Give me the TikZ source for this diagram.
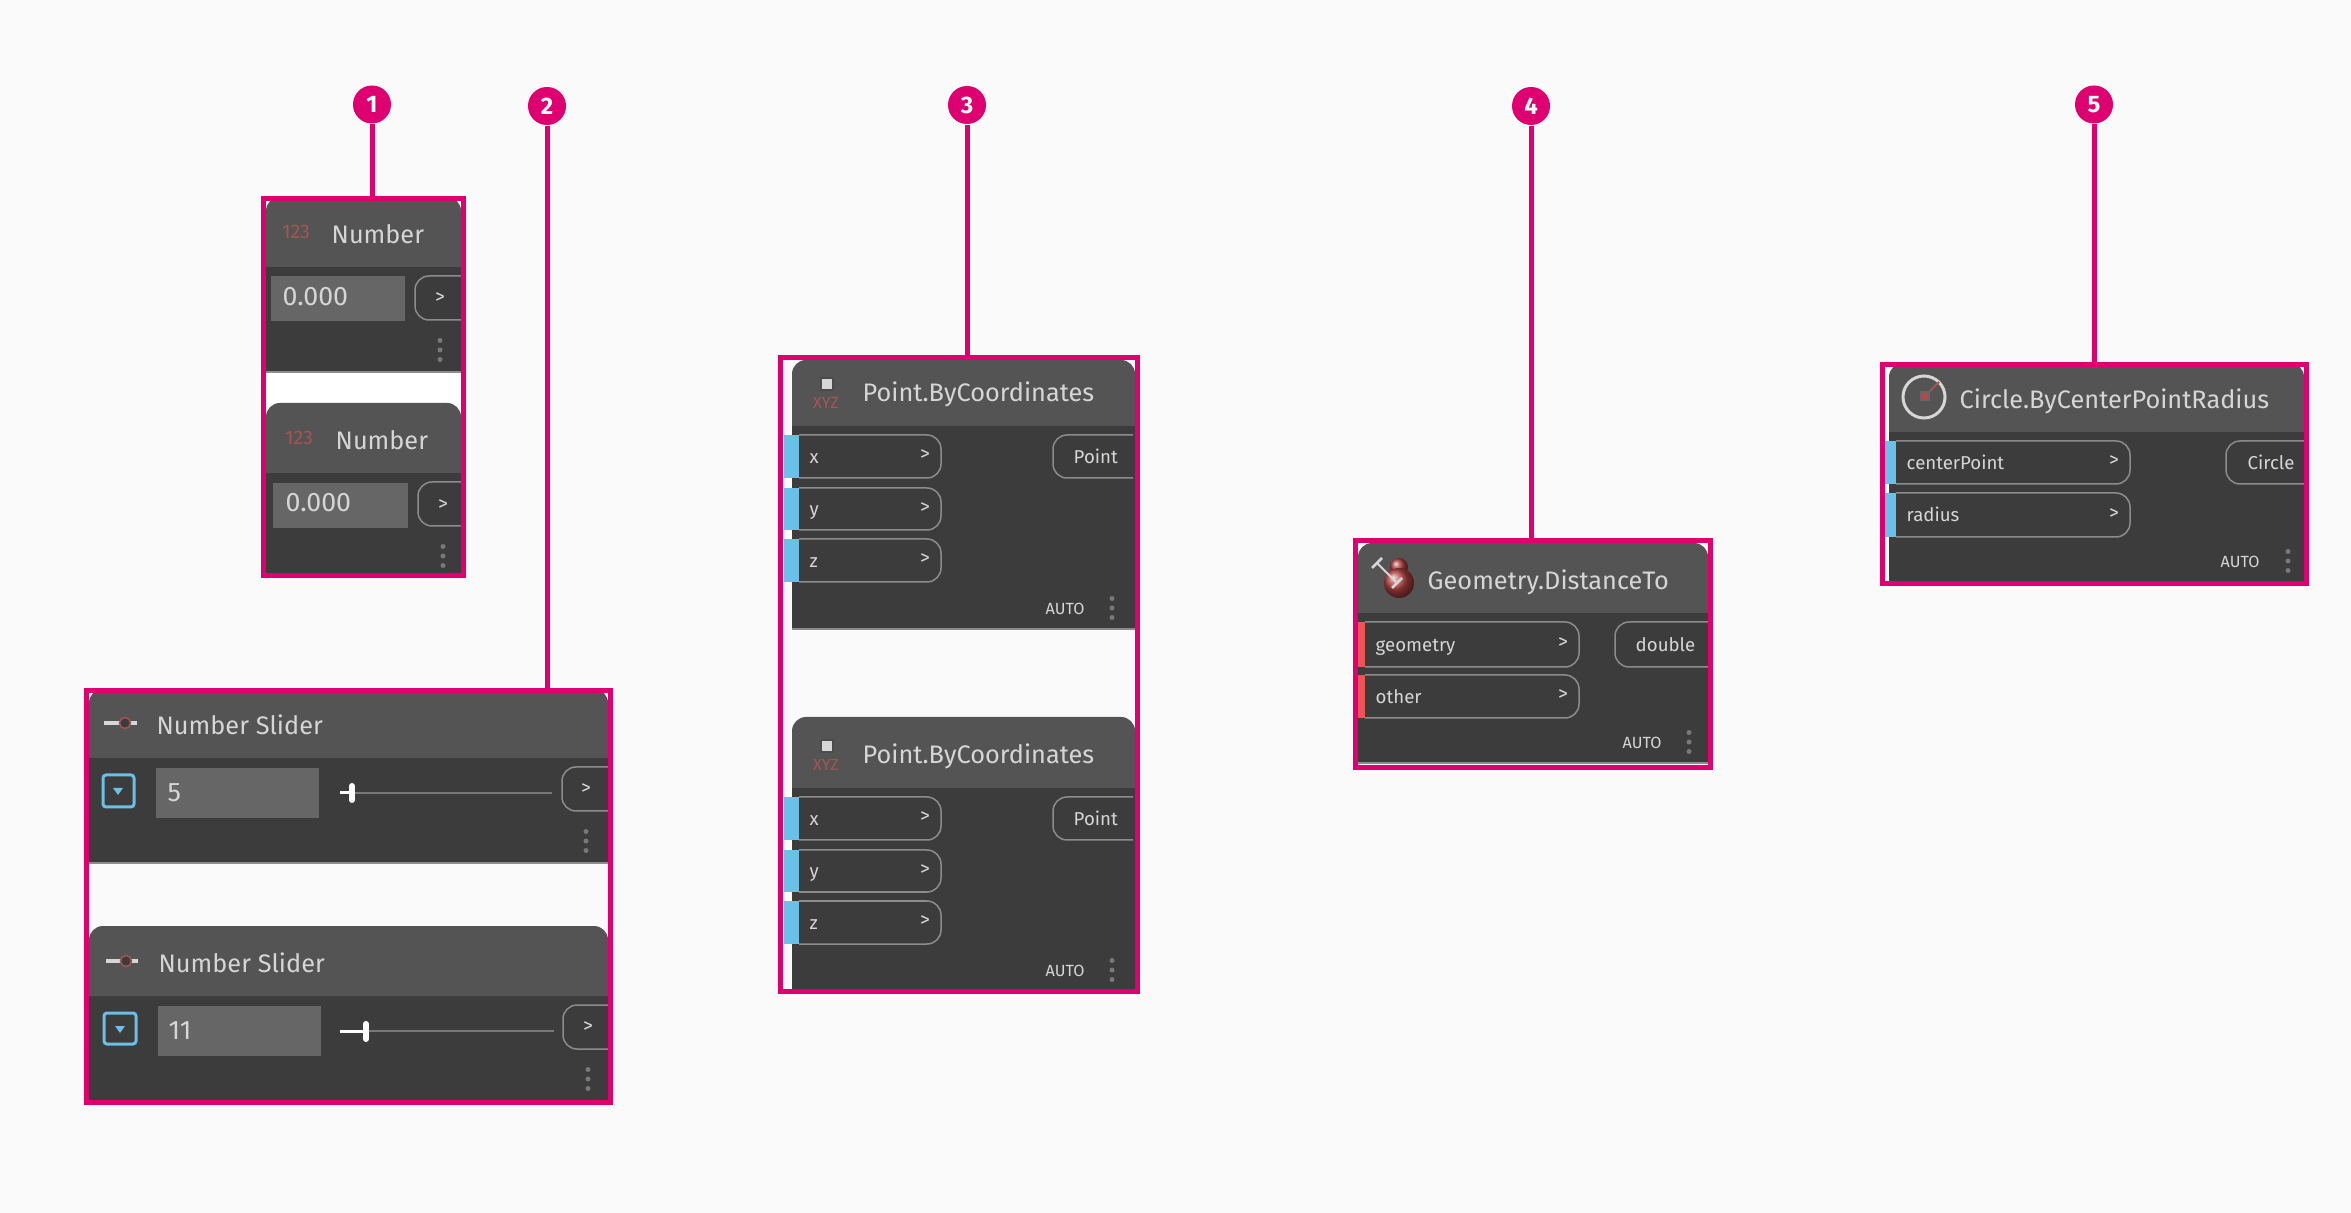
\documentclass[tikz,border=0pt]{standalone}
\usepackage{fontspec}
\setmainfont{Fira Sans}
\usetikzlibrary{fit}

\definecolor{figpage}{RGB}{250,250,250}
\definecolor{figpink}{RGB}{222,0,112}
\definecolor{fighead}{RGB}{84,84,84}
\definecolor{figbody}{RGB}{60,60,60}
\definecolor{figfield}{RGB}{102,102,102}
\definecolor{figedge}{RGB}{140,140,140}
\definecolor{figtext}{RGB}{214,214,214}
\definecolor{figdots}{RGB}{120,120,120}
\definecolor{figblue}{RGB}{106,192,231}
\definecolor{figred}{RGB}{235,85,85}
\definecolor{figicon}{RGB}{165,84,84}

\tikzset{
  badge/.style={circle,fill=figpink,text=white,inner sep=0pt,minimum size=0.38cm,
    font=\fontsize{6.8}{8}\bfseries\selectfont},
  leader/.style={figpink,line width=0.05cm},
  framebox/.style={draw=figpink,line width=0.05cm,inner sep=0pt},
  titletext/.style={anchor=base west,inner sep=0pt,text=figtext,font=\fontsize{7.2}{9}\selectfont},
  valuetext/.style={anchor=west,inner sep=0pt,text=figtext,font=\fontsize{7.6}{9}\selectfont},
  porttext/.style={anchor=base west,inner sep=0pt,text=figtext,font=\fontsize{5.3}{7}\selectfont},
  chevron/.style={inner sep=0pt,text=figtext,font=\fontsize{5.6}{7}\selectfont},
  autotext/.style={anchor=west,inner sep=0pt,text=figtext,font=\fontsize{4.6}{6}\selectfont},
  icontext/.style={inner sep=0pt,text=figicon,font=\fontsize{4.6}{6}\selectfont},
  numbericon/.style={inner sep=0pt,text=figicon,font=\fontsize{5.6}{7}\selectfont},
  portline/.style={figedge,line width=0.015cm,rounded corners=0.14cm},
}

% l, r, top, header bottom, bottom
\newcommand{\dynnode}[5]{
  \fill[figbody] (#1,#4) rectangle (#2,#5);
  \draw[figedge,line width=0.015cm] (#1,#5) -- (#2,#5);
  \fill[fighead] (#1,#4) [rounded corners=0.14cm] -- (#1,#3) -- (#2,#3) [sharp corners] -- (#2,#4) -- cycle;
}
\newcommand{\menudots}[2]{
  \foreach \k in {-9.5,0,9.5} \fill[figdots] (#1,#2+\k) circle (0.025cm);
}
% name, colour, bar left, bar right, pill right, top, bottom, label
\newcommand{\inport}[8]{
  \draw[portline] (#4,#6) -- (#5,#6) -- (#5,#7) -- (#4,#7);
  \fill[#2] (#3,#6) rectangle (#4,#7);
  \node[porttext] (#1label) at (#4+10,{(#6+#7)/2+7}) {#8};
  \node[chevron] (#1arrow) at (#5-16,{(#6+#7)/2-1}) {>};
}
% name, left, right, top, bottom, label x, label
\newcommand{\outport}[7]{
  \draw[portline] (#3,#4) -- (#2,#4) -- (#2,#5) -- (#3,#5);
  \node[porttext] (#1) at (#6,{(#4+#5)/2+7}) {#7};
}

\begin{document}
\begin{tikzpicture}[x=0.01cm,y=-0.01cm]
  \useasboundingbox (0,0) rectangle (2351,1213);
  \fill[figpage] (0,0) rectangle (2351,1213);
  \fill[white] (266,372) rectangle (461,403);

  % number nodes
  \dynnode{266}{461}{197}{267}{372}
  \dynnode{266}{461}{403}{473}{576}
  \node[numbericon] (numicona) at (296,232) {123};
  \node[titletext] (numtitlea) at (331,243.5) {Number};
  \fill[figfield] (271,276) rectangle (405,321);
  \node[valuetext] (numvala) at (282,297) {0.000};
  \draw[portline] (461,276) -- (415,276) -- (415,320) -- (461,320);
  \node[chevron] (numarrowa) at (440,298) {>};
  \menudots{440}{350}
  \node[numbericon] (numiconb) at (299,438) {123};
  \node[titletext] (numtitleb) at (335,449.5) {Number};
  \fill[figfield] (273,483) rectangle (408,528);
  \node[valuetext] (numvalb) at (285,503) {0.000};
  \draw[portline] (461,482) -- (418,482) -- (418,526) -- (461,526);
  \node[chevron] (numarrowb) at (443,505) {>};
  \menudots{443}{556}

  % slider nodes
  \dynnode{89}{608}{689}{758}{863}
  \dynnode{89}{608}{926}{996}{1103}
  \draw[figtext,line width=0.035cm] (104,723) -- (137,723);
  \fill[figbody,draw=figicon,line width=0.015cm] (125,723) circle (0.055cm);
  \node[titletext] (slidetitlea) at (156,734.5) {Number Slider};
  \draw[figblue,line width=0.03cm,rounded corners=0.03cm] (103,775) rectangle (134,807);
  \fill[figblue] (113,788) -- (123,788) -- (118,795) -- cycle;
  \fill[figfield] (156,768) rectangle (319,818);
  \node[valuetext] (slidevala) at (167,793) {5};
  \draw[figdots,line width=0.02cm] (352,793) -- (552,793);
  \draw[white,line width=0.03cm] (340,793) -- (352,793);
  \draw[white,line width=0.06cm,line cap=round] (352,786) -- (352,800);
  \draw[portline] (608,767) -- (562,767) -- (562,811) -- (608,811);
  \node[chevron] (slidearrowa) at (586,789) {>};
  \menudots{586}{841}
  \draw[figtext,line width=0.035cm] (106,961) -- (138,961);
  \fill[figbody,draw=figicon,line width=0.015cm] (126,961) circle (0.055cm);
  \node[titletext] (slidetitleb) at (158,972.5) {Number Slider};
  \draw[figblue,line width=0.03cm,rounded corners=0.03cm] (104,1013) rectangle (136,1044);
  \fill[figblue] (115,1026) -- (125,1026) -- (120,1033) -- cycle;
  \fill[figfield] (158,1006) rectangle (321,1056);
  \node[valuetext] (slidevalb) at (168,1031) {11};
  \draw[figdots,line width=0.02cm] (366,1031) -- (554,1031);
  \draw[white,line width=0.03cm] (340,1031) -- (366,1031);
  \draw[white,line width=0.06cm,line cap=round] (366,1024) -- (366,1039);
  \draw[portline] (608,1005) -- (563,1005) -- (563,1049) -- (608,1049);
  \node[chevron] (slidearrowb) at (588,1027) {>};
  \menudots{588}{1079}

  % point nodes, the second is the first moved down
  \foreach \dy/\ntop in {0/360,362/717} {
    \dynnode{792}{1135}{\ntop}{426+\dy}{629+\dy}
    \fill[figtext,draw=black!70,line width=0.012cm] (821,378+\dy) rectangle (833,390+\dy);
    \node[icontext] (pticon\dy) at (826,403+\dy) {XYZ};
    \node[titletext] (pttitle\dy) at (862,401.5+\dy) {Point.ByCoordinates};
    \inport{ptx\dy}{figblue}{784}{799}{941}{435+\dy}{478+\dy}{x}
    \inport{pty\dy}{figblue}{784}{799}{941}{488+\dy}{530+\dy}{y}
    \inport{ptz\dy}{figblue}{784}{799}{941}{539+\dy}{582+\dy}{z}
    \outport{ptout\dy}{1053}{1133}{435+\dy}{478+\dy}{1073}{Point}
    \node[autotext] (ptauto\dy) at (1045,609+\dy) {AUTO};
    \menudots{1112}{608+\dy}
  }

  % distance node
  \dynnode{1358}{1708}{543}{613}{763}
  \shade[ball color=figred!75!black] (1399,567) circle (0.09cm);
  \shade[ball color=figred!75!black] (1399,583) circle (0.15cm);
  \draw[figtext,line width=0.018cm] (1377,563) -- (1397,583);
  \draw[figtext,line width=0.025cm] (1372,568) -- (1382,558);
  \draw[figtext,line width=0.025cm] (1392,588) -- (1402,578);
  \node[titletext] (disttitle) at (1427,589.5) {Geometry.DistanceTo};
  \inport{distgeo}{figred}{1358}{1365}{1579}{622}{667}{geometry}
  \inport{distother}{figred}{1358}{1365}{1579}{675}{718}{other}
  \outport{distout}{1615}{1708}{622}{667}{1635}{double}
  \node[autotext] (distauto) at (1622,743) {AUTO};
  \menudots{1689}{742}

  % circle node
  \fill[white] (1885,367) rectangle (1889,581);
  \dynnode{1889}{2304}{363}{432}{584}
  \draw[figtext,line width=0.03cm] (1924,397) circle (0.21cm);
  \draw[figicon,line width=0.02cm] (1925,396) -- (1939,382);
  \fill[figred!80!black,draw=black!60,line width=0.012cm] (1921,392) rectangle (1929,400);
  \node[titletext] (circtitle) at (1959,408.5) {Circle.ByCenterPointRadius};
  \inport{circcenter}{figblue}{1885}{1896}{2130}{441}{484}{centerPoint}
  \inport{circradius}{figblue}{1885}{1896}{2130}{493}{537}{radius}
  \outport{circout}{2226}{2304}{441}{484}{2247}{Circle}
  \node[autotext] (circauto) at (2220,562) {AUTO};
  \menudots{2288}{561}

  % frames and badges
  \node[framebox,fit={(263.5,198.5)(463.5,575.5)}] (frameone) {};
  \node[framebox,fit={(86.5,690.5)(610.5,1102.5)}] (frametwo) {};
  \node[framebox,fit={(780.5,357.5)(1137.5,991.5)}] (framethree) {};
  \node[framebox,fit={(1355.5,540.5)(1710.5,767.5)}] (framefour) {};
  \node[framebox,fit={(1882.5,364.5)(2306.5,583.5)}] (framefive) {};
  \node[badge] (badgeone) at (372,104.5) {1};
  \node[badge] (badgetwo) at (547,106) {2};
  \node[badge] (badgethree) at (967,105) {3};
  \node[badge] (badgefour) at (1531,106) {4};
  \node[badge] (badgefive) at (2094,104.5) {5};
  \draw[leader] (badgeone) -- (badgeone |- frameone.north);
  \draw[leader] (badgetwo) -- (badgetwo |- frametwo.north);
  \draw[leader] (badgethree) -- (badgethree |- framethree.north);
  \draw[leader] (badgefour) -- (badgefour |- framefour.north);
  \draw[leader] (badgefive) -- (badgefive |- framefive.north);
\end{tikzpicture}
\end{document}
